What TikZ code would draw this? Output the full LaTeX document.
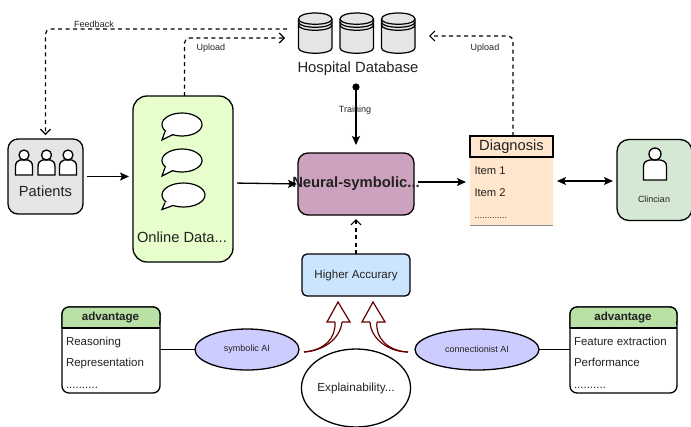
\documentclass[tikz,border=0pt]{standalone}
\usepackage{fontspec}
\setmainfont{Liberation Sans}
\usetikzlibrary{arrows.meta}
\newcommand{\fsz}[1]{\fontsize{#1}{#1}\selectfont}
\definecolor{txt}{HTML}{222222}
\tikzset{
  box/.style={draw=black,line width=1.3pt,rounded corners=#1,inner sep=0pt,outer sep=0pt},
  box/.default=8pt,
  sized/.style 2 args={minimum width=#1 pt,minimum height=#2 pt},
  lbl/.style={inner sep=0pt,outer sep=0pt,text=txt},
  conn/.style={line width=1.3pt,-{Stealth[length=9pt,width=8pt,inset=2pt]}},
  dconn/.style={line width=1.2pt,dash pattern=on 4pt off 3.5pt,rounded corners=5pt,-{Straight Barb[length=5pt,width=10pt,line width=1.2pt]}},
  ell/.style={draw=black,line width=1.3pt,ellipse,inner sep=0pt,outer sep=0pt,fill=bluel},
  flow/.style={draw=flowred,line width=1.2pt},
  itemtxt/.style={lbl,anchor=base west,font=\fsz{11.5}},
}
\definecolor{bluel}{HTML}{CCCCFF}
\definecolor{flowred}{HTML}{660000}
\usetikzlibrary{shapes.geometric}
\newcommand{\person}[5]{% cx, headcy, r, halfwidth, top/bottom via #5
  \draw[line width=1.3pt,fill=white] (#1-#4,#5) -- (#1-#4,#2+#3+7) .. controls (#1-#4,#2+#3+2) and (#1-#4+2,#2+#3+1) .. (#1-#3+1,#2+#3) -- (#1+#3-1,#2+#3) .. controls (#1+#4-2,#2+#3+1) and (#1+#4,#2+#3+2) .. (#1+#4,#2+#3+7) -- (#1+#4,#5) -- cycle;
  \draw[line width=1.3pt,fill=white] (#1,#2) circle[radius=#3 pt];
}
\newcommand{\bubble}[7]{% cx cy rx ry ; tail a-x tip-y b-x
  \draw[line width=1.2pt,fill=white] (#1,#2) ellipse[x radius=#3 pt,y radius=#4 pt];
  \fill[white] (#1-#3+4,#2+#4-5) -- (#1-#3,#5) -- (#1-#3+11,#2+#4-2) -- (#1-#3+10,#2+#4-8) -- cycle;
  \draw[line width=1.2pt] (#1-#3+3,#2+#4-4.5) -- (#1-#3,#5) -- (#1-#3+11,#2+#4-1.5);
}
\newcommand{\dbcyl}[2]{% x1 x2
  \draw[line width=1.2pt,fill=black!10] (#1,19) -- (#1,48) .. controls (#1,55) and (#2,55) .. (#2,48) -- (#2,19) .. controls (#2,11) and (#1,11) .. (#1,19) -- cycle;
  \draw[line width=1.2pt] (#1,19) .. controls (#1,26) and (#2,26) .. (#2,19);
  \draw[line width=1.2pt] (#1,22) .. controls (#1,29) and (#2,29) .. (#2,22);
  \draw[line width=1.2pt] (#1,25) .. controls (#1,32) and (#2,32) .. (#2,25);
}
\begin{document}
\begin{tikzpicture}[x=1pt,y=-1pt]
\useasboundingbox (0,0) rectangle (691,426);
% labels below lines
\node[lbl,font=\fsz{9}] (fbl) at (94,24) {Feedback};
\node[lbl,font=\fsz{9}] (upl) at (211,48.5) {Upload};
\node[lbl,font=\fsz{9}] (upr) at (485,48.5) {Upload};
\node[lbl,font=\fsz{9}] (trl) at (355,110.5) {Training};
% boxes
\node[box=10pt,fill=black!10,sized={75}{75}] (patients) at (45.5,176.5) {};
\node[lbl,font=\fsz{14.7}] (patl) at (45.5,191.5) {Patients};
\person{24}{155}{5}{8.5}{175}
\person{46.5}{155}{5}{8.5}{175}
\person{68}{155}{5}{8.5}{175}
\node[box=14pt,fill={rgb,255:red,230;green,255;blue,204},sized={100}{166}] (online) at (183,179) {};
\node[lbl,font=\fsz{14.7}] (onl) at (182,237) {Online Data...};
\bubble{182}{124.5}{20}{11.5}{140}{}{}
\bubble{182}{160.5}{20}{11.5}{176}{}{}
\bubble{183.5}{195}{21.5}{12}{209.5}{}{}
\node[box=10pt,fill={rgb,255:red,205;green,162;blue,190},sized={116}{62}] (neural) at (356,184) {\makebox[0pt]{\fsz{14.8}\bfseries\color{txt}Neural-symbolic...}};
% database
\node[inner sep=0pt,outer sep=0pt,minimum width=117pt,minimum height=42pt] (db) at (356.5,33) {};
\dbcyl{298.5}{332}
\dbcyl{340}{373.5}
\dbcyl{381.5}{415}
\node[lbl,font=\fsz{14.8}] (hosp) at (358,69) {Hospital Database};
% diagnosis
\node[fill={rgb,255:red,255;green,230;blue,204},draw=none,inner sep=0pt,outer sep=0pt,sized={83}{89}] (diag) at (511.5,180.5) {};
\draw[black!45,line width=.6pt] (diag.south west) -- (diag.south east);
\node[draw=black,line width=1.3pt,fill={rgb,255:red,255;green,230;blue,204},inner sep=0pt,outer sep=0pt,sized={83}{21},font=\fsz{14.7},text=txt] (diagh) at (511.5,146.5) {Diagnosis};
\node[itemtxt,font=\fsz{11.2}] (i1) at (474.5,174) {Item 1};
\node[itemtxt,font=\fsz{11.2}] (i2) at (474.5,196) {Item 2};
\node[itemtxt,font=\fsz{9}] (i3) at (474.5,218) {.............};
% clinician
\node[box=12pt,fill={rgb,255:red,213;green,232;blue,212},sized={75}{81}] (clin) at (654.5,180) {};
\person{655}{154}{6}{11.5}{180}
\node[lbl,font=\fsz{9}] (clinl) at (654,199.5) {Clincian};
% higher accuracy
\node[box=5pt,fill={rgb,255:red,204;green,229;blue,255},sized={108}{42},font=\fsz{11.6},text=txt] (ha) at (356,275) {Higher Accurary};
% advantage left
\node[box=7pt,fill=white,sized={98}{86}] (advl) at (111,350) {};
\draw[line width=1.3pt,fill={rgb,255:red,185;green,224;blue,165},rounded corners=7pt] (62,328) -- (62,307) -- (160,307) -- (160,328) [sharp corners] -- cycle;
\fill[fill={rgb,255:red,185;green,224;blue,165}] (63,320) rectangle (159,327.4);
\draw[line width=1.3pt] (62,328) -- (160,328);
\node[lbl,font=\fsz{11.6}\bfseries] (advlh) at (110.5,318) {advantage};
\node[itemtxt] (l1) at (66,345) {Reasoning};
\node[itemtxt] (l2) at (66,366) {Representation};
\node[itemtxt] (l3) at (66,388) {..........};
% advantage right
\node[box=7pt,fill=white,sized={107}{86}] (advr) at (623.5,350) {};
\draw[line width=1.3pt,fill={rgb,255:red,185;green,224;blue,165},rounded corners=7pt] (570,328) -- (570,307) -- (677,307) -- (677,328) [sharp corners] -- cycle;
\fill[fill={rgb,255:red,185;green,224;blue,165}] (571,320) rectangle (676,327.4);
\draw[line width=1.3pt] (570,328) -- (677,328);
\node[lbl,font=\fsz{11.6}\bfseries] (advrh) at (623,318) {advantage};
\node[itemtxt] (r1) at (574,345) {Feature extraction};
\node[itemtxt] (r2) at (574,366) {Performance};
\node[itemtxt] (r3) at (574,388) {..........};
% ellipses
\node[ell,minimum width=104pt,minimum height=41pt,font=\fsz{9},text=txt] (sym) at (247,349.5) {symbolic AI};
\node[ell,minimum width=124pt,minimum height=41pt,font=\fsz{9},text=txt] (con) at (477,349.5) {connectionist AI};
\node[draw=black,line width=1.3pt,ellipse,fill=white,inner sep=0pt,outer sep=0pt,minimum width=98pt,minimum height=78pt,font=\fsz{11.7},text=txt] (expl) at (356,388) {Explainability...};
% connectors
\draw[conn,shorten <=4pt,shorten >=4pt] (patients.east) -- (online.west |- patients.east);
\draw[conn,shorten <=4pt,shorten >=1pt] (online.east) ++(0,4) -- (neural.west);
\draw[conn,shorten <=4pt,shorten >=4pt] (neural.east) ++(0,-2) -- (diag.west |- 0,182);
\draw[line width=1.3pt,{Stealth[length=9pt,width=8pt,inset=2pt]}-{Stealth[length=9pt,width=8pt,inset=2pt]},shorten <=4pt,shorten >=4pt] (diag.east |- 0,181) -- (clin.west |- 0,181);
\coordinate (dot) at (356,87);
\fill (dot) circle[radius=3.6pt];
\draw[conn,shorten >=8pt] (dot) -- (neural.north);
\draw[dconn,shorten >=4pt] (ha.north) -- (neural.south);
\coordinate (dbinl) at (285,38);
\coordinate (dbinr) at (429,36);
\coordinate (dbfb) at (287,29);
\draw[dconn] ([xshift=1.5pt]online.north) |- (dbinl);
\draw[dconn,shorten >=4pt] (dbfb) -| (patients.north);
\draw[dconn] ([xshift=1.5pt]diagh.north) |- (dbinr);
\draw[line width=1.3pt] (advl.east |- sym.west) -- (sym.west);
\draw[line width=1.3pt] (con.east) -- (advr.west |- con.east);
% flow arrows
\coordinate (fl) at (304,352);
\coordinate (fr) at (408,352);
\draw[flow,line join=miter,fill=white] (335,322) -- (327,322) -- (338,302) -- (350,322) -- (342,322);
\draw[flow] (335,322) .. controls (336,338) and (325,350) .. (fl);
\draw[flow] (342,322) .. controls (340,340) and (322,351) .. (fl);
\draw[flow,line join=miter,fill=white] (370,322) -- (362,322) -- (373,302) -- (385,322) -- (377,322);
\draw[flow] (370,322) .. controls (371,340) and (390,352) .. (fr);
\draw[flow] (377,322) .. controls (375,338) and (388,351) .. (fr);
\end{tikzpicture}
\end{document}
